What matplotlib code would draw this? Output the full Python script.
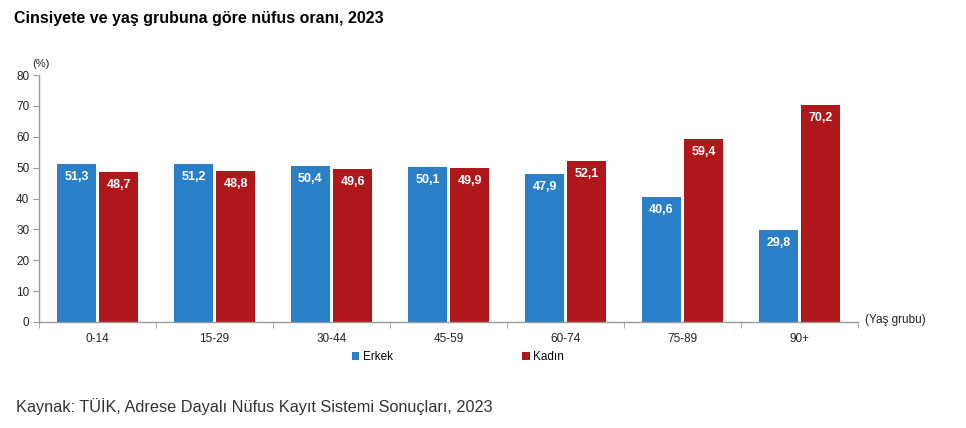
import matplotlib
matplotlib.use("Agg")
import matplotlib.pyplot as plt
import numpy as np

categories = ["0-14", "15-29", "30-44", "45-59", "60-74", "75-89", "90+"]
erkek = [51.3, 51.2, 50.4, 50.1, 47.9, 40.6, 29.8]
kadin = [48.7, 48.8, 49.6, 49.9, 52.1, 59.4, 70.2]
yticks = [0, 10, 20, 30, 40, 50, 60, 70, 80]

plt.rcParams['font.family'] = ['Liberation Sans', 'DejaVu Sans']

BLUE = "#2b7fc6"
RED = "#b0171b"
AXC = "#9a9a9a"

fig = plt.figure(figsize=(9.66, 4.28), dpi=100)
ax = fig.add_axes([39/966, 1-322/428, (858-39)/966, (322-75)/428])

x = np.arange(len(categories))
w = 0.34
gap = 0.01
b1 = ax.bar(x - w/2 - gap, erkek, width=w, color=BLUE, label="Erkek")
b2 = ax.bar(x + w/2 + gap, kadin, width=w, color=RED, label="Kadın")

for bars, vals in ((b1, erkek), (b2, kadin)):
    for r, v in zip(bars, vals):
        ax.annotate(f"{v:.1f}".replace(".", ","),
                    (r.get_x() + r.get_width()/2, v), xytext=(0, -13),
                    textcoords="offset pixels",
                    ha="center", va="center", color="white",
                    fontsize=9, fontweight="bold")

ax.set_xlim(-0.5, len(categories) - 0.5)
ax.set_ylim(0, 80)
ax.set_yticks(yticks)
ax.set_xticks(x)
ax.set_xticklabels(categories)
ax.set_xticks(np.arange(len(categories) + 1) - 0.5, minor=True)
ax.tick_params(axis='x', which='major', length=0, pad=8, labelsize=8.5, colors="#222222")
ax.tick_params(axis='x', which='minor', length=4, color=AXC, direction='out')
ax.tick_params(axis='y', length=4, color=AXC, labelsize=8.5, colors="#222222", pad=3)
for s in ("top", "right"):
    ax.spines[s].set_visible(False)
for s in ("left", "bottom"):
    ax.spines[s].set_color(AXC)
    ax.spines[s].set_linewidth(1)

fig.text(41/966, 1-64/428, "(%)", fontsize=8, color="#222222", ha="center", va="center")
fig.text(865/966, 1-320/428, "(Yaş grubu)", fontsize=8.5, color="#222222", ha="left", va="center")

fig.text(14/966, 1-18/428, "Cinsiyete ve yaş grubuna göre nüfus oranı, 2023",
         fontsize=11.5, fontweight="bold", color="black", ha="left", va="center")
fig.text(16/966, 1-407/428, "Kaynak: TÜİK, Adrese Dayalı Nüfus Kayıt Sistemi Sonuçları, 2023",
         fontsize=11.7, color="#333333", ha="left", va="center")

fig.legend(handles=[b1, b2], labels=["Erkek", "Kadın"], loc="center",
           bbox_to_anchor=(458/966, 1-357/428), ncol=2, frameon=False,
           fontsize=8.5, handlelength=0.6, handleheight=0.6, handletextpad=0.3,
           columnspacing=11.0)

fig.savefig("out.png", dpi=100)
